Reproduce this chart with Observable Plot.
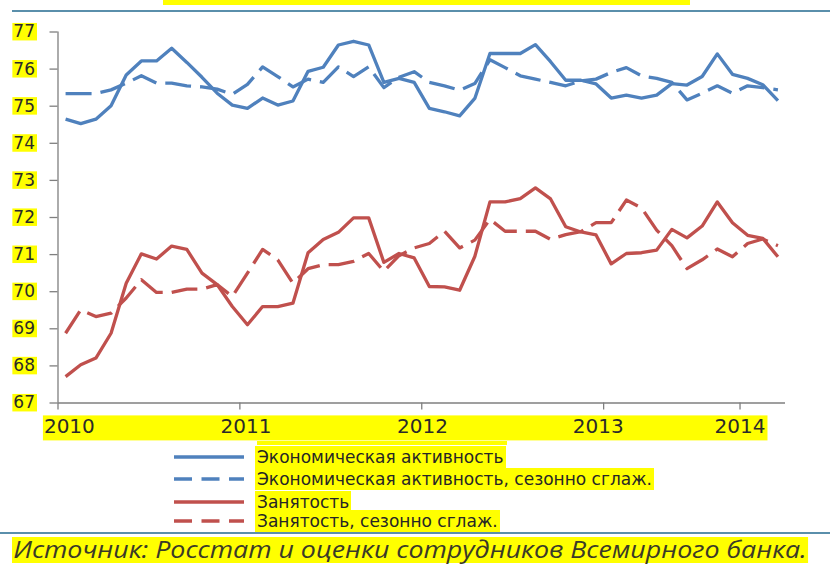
<!DOCTYPE html>
<html><head><meta charset="utf-8">
<script src="https://cdn.jsdelivr.net/npm/d3@7"></script>
<script src="https://cdn.jsdelivr.net/npm/@observablehq/plot@0.6"></script>
<style>
html,body{margin:0;padding:0;background:#fff;}
#wrap{position:relative;width:830px;height:564px;overflow:hidden;font-family:"DejaVu Sans",sans-serif;}
.abs{position:absolute;}
.yel{background:#ffff00;}
#legend{position:absolute;left:0;top:0;z-index:2;}
.lg{position:absolute;left:0;width:830px;height:22px;}
.lg svg{position:absolute;left:173px;top:0;}
.lg span{position:absolute;left:255px;top:0;height:22px;line-height:22px;font-size:17px;color:#262626;background:#ffff00;padding:0 2px;white-space:nowrap;}
#cap{position:absolute;left:12px;top:537px;height:26px;line-height:25px;font-family:"Open Sans",sans-serif;font-style:italic;font-size:23px;color:#3a3a28;background:#ffff00;white-space:nowrap;padding:0 1px;transform-origin:0 0;}
</style></head>
<body><div id="wrap">
<div class="abs yel" style="left:163px;top:0;width:527px;height:5px"></div>
<div class="abs" style="left:12px;top:10px;width:818px;height:2px;background:#5a8fab"></div>
<div id="chart" class="abs" style="left:0;top:0"></div>
<div class="abs yel" style="left:257px;top:441px;width:250px;height:4px"></div>
<div class="abs yel" style="left:255px;top:527px;width:238px;height:5px"></div>
<div class="abs" style="left:0;top:532px;width:830px;height:2px;background:#5a8fab"></div>
<div id="legend"></div>
<div id="cap"></div>
</div>
<script>
// ---- data ----
const months = d3.range(48); // Jan 2010 .. Dec 2013, category index
const xTickPos = [0, 12, 24, 36, 45];
const xLabelPos = [0.75, 12.4, 24.05, 35.65, 45];
const xLabels = ["2010", "2011", "2012", "2013", "2014"];
const yTicks = [67, 68, 69, 70, 71, 72, 73, 74, 75, 76, 77];

const econ = [74.65,74.53,74.65,75.01,75.84,76.22,76.22,76.56,76.18,75.78,75.35,75.03,
              74.94,75.22,75.03,75.14,75.94,76.05,76.65,76.75,76.65,75.64,75.75,75.64,
              74.94,74.85,74.74,75.21,76.42,76.42,76.42,76.66,76.20,75.70,75.70,75.60,
              75.22,75.30,75.22,75.30,75.61,75.57,75.80,76.41,75.86,75.75,75.58,75.15];
const econSA = [75.34,75.34,75.34,75.44,75.62,75.82,75.62,75.62,75.55,75.52,75.46,75.32,
                75.59,76.06,75.80,75.52,75.73,75.64,76.06,75.80,76.06,75.50,75.78,75.93,
                75.64,75.55,75.43,75.61,76.25,76.04,75.82,75.73,75.64,75.55,75.68,75.73,
                75.91,76.04,75.82,75.75,75.64,75.17,75.35,75.55,75.35,75.55,75.50,75.44];
const empl = [67.71,68.03,68.21,68.88,70.23,71.02,70.88,71.23,71.14,70.50,70.19,69.60,
              69.11,69.60,69.60,69.69,71.05,71.41,71.60,71.99,71.99,70.79,71.03,70.91,
              70.14,70.13,70.04,70.95,72.42,72.42,72.51,72.80,72.50,71.75,71.61,71.53,
              70.75,71.03,71.05,71.12,71.68,71.45,71.77,72.42,71.86,71.52,71.44,70.94];
const emplSA = [68.88,69.51,69.33,69.42,69.83,70.32,69.98,69.98,70.07,70.07,70.19,69.87,
                70.50,71.14,70.86,70.23,70.62,70.73,70.73,70.82,71.03,70.55,70.97,71.18,
                71.30,71.63,71.18,71.39,71.95,71.63,71.63,71.63,71.41,71.54,71.62,71.86,
                71.86,72.47,72.26,71.66,71.24,70.62,70.86,71.15,70.94,71.30,71.42,71.24];

const seriesNames = ["Экономическая активность", "Экономическая активность, сезонно сглаж.", "Занятость", "Занятость, сезонно сглаж."];
const seriesColors = ["#4f81bd", "#4f81bd", "#c0504d", "#c0504d"];
const seriesDash = [null, "26,9", null, "26,9"];
const seriesData = [econ, econSA, empl, emplSA];
const caption = "Источник: Росстат и оценки сотрудников Всемирного банка.";

// ---- chart ----
const axisColor = "#7f7f7f";
const plot = Plot.plot({
  width: 830, height: 445,
  marginLeft: 57.5, marginRight: 45, marginTop: 31.5, marginBottom: 42.5,
  style: {background: "transparent", fontFamily: "DejaVu Sans", color: "#2a2a2a", overflow: "visible"},
  x: {domain: [0, 48]},
  y: {domain: [67, 77]},
  marks: [
    Plot.axisY({ticks: yTicks, tickSize: 8, tickPadding: 15, fontSize: 17, stroke: axisColor, strokeWidth: 1.3, tickFormat: d => String(d), label: null}),
    Plot.axisX({ticks: xTickPos, tickSize: 7, stroke: axisColor, strokeWidth: 1.3, tickFormat: () => "", label: null}),
    Plot.ruleX([0], {stroke: axisColor, strokeWidth: 1.3}),
    Plot.ruleY([67], {stroke: axisColor, strokeWidth: 1.3}),
    ...seriesData.map((vals, k) => Plot.line(months, {
      x: i => i + 0.5, y: i => vals[i],
      stroke: seriesColors[k], strokeWidth: 3.3,
      strokeDasharray: seriesDash[k] || undefined,
      strokeLinejoin: "round", strokeLinecap: "butt"
    })),
    Plot.text(xLabels, {x: (d, i) => xLabelPos[i], text: d => d, frameAnchor: "bottom", lineAnchor: "middle", dy: 24, fontSize: 20, fill: "#2a2a2a", textAnchor: "middle"})
  ]
});
document.getElementById("chart").appendChild(plot);

// yellow highlight boxes behind tick labels
const svgRect = plot.getBoundingClientRect();
const ns = "http://www.w3.org/2000/svg";
const bg = document.createElementNS(ns, "g");
const firstG = plot.querySelector("g");
plot.insertBefore(bg, firstG);
function addRect(x, y, w, h) {
  const r = document.createElementNS(ns, "rect");
  r.setAttribute("x", x); r.setAttribute("y", y);
  r.setAttribute("width", w); r.setAttribute("height", h);
  r.setAttribute("fill", "#ffff00");
  bg.appendChild(r);
}
plot.querySelectorAll('g[aria-label="y-axis tick label"] text').forEach(t => {
  const b = t.getBoundingClientRect();
  const cy = (b.top + b.bottom) / 2 - svgRect.top;
  addRect(b.left - svgRect.left - 1, cy - 8.5, b.width + 3, 17.5);
});
{
  let l = Infinity, r = -Infinity, tp = Infinity, bt = -Infinity;
  plot.querySelectorAll('g[aria-label="text"] text').forEach(t => {
    const b = t.getBoundingClientRect();
    l = Math.min(l, b.left); r = Math.max(r, b.right);
    tp = Math.min(tp, b.top); bt = Math.max(bt, b.bottom);
  });
  addRect(l - svgRect.left - 1, tp - svgRect.top + 1, r - l + 3, bt - tp + 1);
}

// ---- legend ----
const legendTop = [446, 468, 490.5, 510];
const legend = document.getElementById("legend");
seriesNames.forEach((name, k) => {
  const row = document.createElement("div");
  row.className = "lg";
  row.style.top = legendTop[k] + "px";
  row.innerHTML = `<svg width="72" height="22"><line x1="1" x2="71" y1="11" y2="11" stroke="${seriesColors[k]}" stroke-width="3.5" ${seriesDash[k] ? 'stroke-dasharray="18,9.5"' : ''}/></svg><span>${name}</span>`;
  legend.appendChild(row);
});
const cap = document.getElementById("cap");
cap.textContent = caption;
// stretch caption to the reference width (796px)
const cw = cap.getBoundingClientRect().width;
cap.style.transform = `scaleX(${796 / cw})`;
</script>
</body></html>
